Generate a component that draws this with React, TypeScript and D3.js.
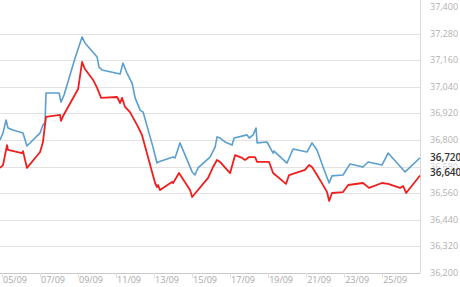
import React from "react";
import * as d3 from "d3";

// day-of-September (fractional), value
const buySeries: [number, number][] = [
  [4.21, 36800], [4.37, 36832], [4.53, 36890], [4.63, 36854], [4.89, 36845],
  [5.42, 36832], [5.63, 36773], [6.32, 36832], [6.47, 36868], [6.58, 36877],
  [6.63, 37012], [7.32, 37012], [7.42, 36971], [7.58, 37003], [8.16, 37170],
  [8.53, 37265], [8.68, 37238], [9.32, 37174], [9.42, 37129], [9.58, 37116],
  [10.53, 37098], [10.68, 37147], [10.89, 37102], [11.16, 37057], [11.32, 36990],
  [11.58, 36935], [11.74, 36926], [12.26, 36768], [12.47, 36696], [12.53, 36701],
  [13.32, 36723], [13.42, 36719], [13.68, 36787], [14.32, 36656], [14.47, 36642],
  [14.63, 36674], [15.26, 36723], [15.53, 36768], [15.63, 36814], [15.79, 36809],
  [16.05, 36791], [16.42, 36777], [16.53, 36809], [17.21, 36823], [17.32, 36809],
  [17.53, 36823], [17.68, 36854], [17.74, 36787], [18.26, 36791], [18.58, 36741],
  [18.63, 36750], [19.31, 36696], [19.63, 36759], [20.37, 36746], [20.63, 36787],
  [20.89, 36755], [21.21, 36678], [21.53, 36606], [21.68, 36638], [22.26, 36642],
  [22.63, 36692], [23.31, 36678], [23.58, 36701], [24.31, 36687], [24.63, 36741],
  [25.53, 36656], [26.31, 36720],
];

const sellSeries: [number, number][] = [
  [4.21, 36674], [4.37, 36687], [4.58, 36777], [4.63, 36755], [5.37, 36741],
  [5.42, 36750], [5.63, 36674], [6.32, 36746], [6.47, 36791], [6.63, 36904],
  [7.37, 36913], [7.42, 36886], [7.53, 36908], [8.26, 37021], [8.32, 37030],
  [8.53, 37152], [8.68, 37120], [9.11, 37071], [9.32, 37035], [9.53, 36990],
  [10.37, 36994], [10.53, 36967], [10.63, 36990], [10.79, 36949], [11.05, 36926],
  [11.42, 36868], [11.68, 36823], [12.37, 36606], [12.47, 36588], [12.53, 36597],
  [12.63, 36574], [13.26, 36611], [13.32, 36606], [13.63, 36651], [14.21, 36574],
  [14.32, 36543], [15.16, 36629], [15.42, 36678], [15.63, 36710], [15.79, 36701],
  [16.16, 36665], [16.32, 36651], [16.58, 36732], [16.95, 36719], [17.11, 36710],
  [17.32, 36723], [17.63, 36723], [17.74, 36701], [18.37, 36701], [18.58, 36651],
  [19.26, 36602], [19.42, 36642], [20.26, 36665], [20.47, 36687], [20.63, 36678],
  [20.89, 36642], [21.11, 36611], [21.42, 36565], [21.53, 36525], [21.68, 36561],
  [22.26, 36565], [22.53, 36597], [23.31, 36606], [23.63, 36584], [24.31, 36606],
  [24.63, 36602], [25.26, 36584], [25.42, 36593], [25.58, 36561], [26.31, 36640],
];

const yTicks = [36200, 36320, 36440, 36560, 36680, 36800, 36920, 37040, 37160, 37280, 37400];
const xTickDays = [5, 7, 9, 11, 13, 15, 17, 19, 21, 23, 25];
const xTickLabels = ["05/09", "07/09", "09/09", "11/09", "13/09", "15/09", "17/09", "19/09", "21/09", "23/09", "25/09"];
const lastLabels = ["36,720", "36,640"];

const W = 460;
const H = 287;
const plotRight = 420;
const plotTop = 7;
const plotBottom = 273;

export default function App() {
  const x = d3.scaleLinear().domain([4.21, 26.31]).range([0, plotRight]);
  const y = d3.scaleLinear().domain([36200, 37400]).range([plotBottom, plotTop]);
  const line = d3
    .line<[number, number]>()
    .x((d) => x(d[0]))
    .y((d) => y(d[1]));
  const fmt = d3.format(",");
  const font = "'Open Sans', 'DejaVu Sans', sans-serif";
  const lastBuy = buySeries[buySeries.length - 1];
  const lastSell = sellSeries[sellSeries.length - 1];

  return (
    <svg
      width={W}
      height={H}
      style={{ position: "absolute", left: 0, top: 0, background: "#fff" }}
      fontFamily={font}
    >
      {yTicks.slice(0, -1).map((t) => (
        <line key={t} x1={0} x2={plotRight} y1={Math.round(y(t)) + 0.5} y2={Math.round(y(t)) + 0.5} stroke="#e2e2e2" />
      ))}
      <line x1={plotRight + 0.5} x2={plotRight + 0.5} y1={0} y2={plotBottom} stroke="#d8d8d8" />
      <line x1={0} x2={plotRight} y1={plotBottom + 0.5} y2={plotBottom + 0.5} stroke="#c8c8c8" />
      {xTickDays.map((d) => (
        <line key={d} x1={Math.round(x(d)) - 12.5} x2={Math.round(x(d)) - 12.5} y1={plotBottom} y2={plotBottom + 5} stroke="#e0e0e0" />
      ))}
      {xTickDays.map((d, i) => (
        <text key={d} x={x(d)} y={plotBottom + 10} fontSize={9} fill="#a8a8a8" textAnchor="middle">
          {xTickLabels[i]}
        </text>
      ))}
      {yTicks.map((t) => (
        <text key={t} x={430} y={y(t) + 3} fontSize={9} fill={t === 36680 ? "#cfcfcf" : "#b0b0b0"}>
          {fmt(t)}
        </text>
      ))}
      <path d={line(buySeries) || ""} fill="none" stroke="#5a9fd0" strokeWidth={1.6} strokeLinejoin="round" />
      <path d={line(sellSeries) || ""} fill="none" stroke="#f01e1e" strokeWidth={1.8} strokeLinejoin="round" />
      <text x={430} y={y(lastBuy[1]) + 3} fontSize={10} fill="#333" fontWeight={600}>
        {lastLabels[0]}
      </text>
      <text x={430} y={y(lastSell[1]) + 1} fontSize={10} fill="#333" fontWeight={600}>
        {lastLabels[1]}
      </text>
    </svg>
  );
}
